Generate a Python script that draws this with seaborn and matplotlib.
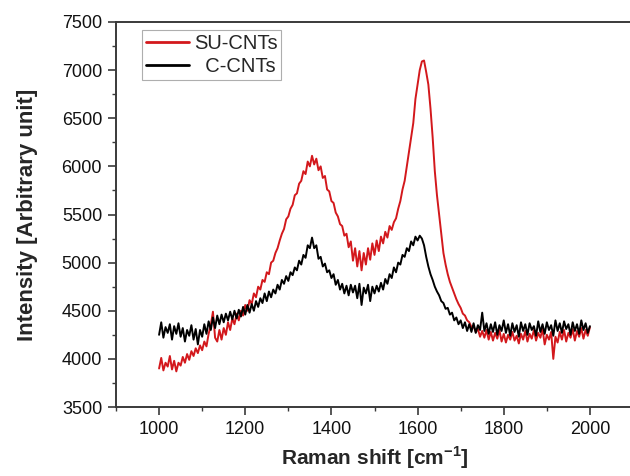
import numpy as np
import pandas as pd
import matplotlib
matplotlib.use("Agg")
import matplotlib.pyplot as plt
from matplotlib.ticker import MultipleLocator
from matplotlib.lines import Line2D
import seaborn as sns

# Raman shift grid (cm^-1), 5 cm^-1 steps from 1000 to 2000
raman_shift = list(range(1000, 2001, 5))

su_cnts = [
    3900, 4010, 3880, 3960, 3920, 4030, 3890, 3980, 3870, 3960,
    3930, 4020, 3960, 4050, 3990, 4080, 4030, 4110, 4060, 4140,
    4090, 4180, 4130, 4260, 4350, 4490, 4220, 4180, 4300, 4200,
    4320, 4250, 4380, 4300, 4420, 4360, 4470, 4400, 4500, 4450,
    4560, 4500, 4610, 4570, 4680, 4640, 4750, 4720, 4820, 4800,
    4900, 4880, 5000, 5020, 5100, 5150, 5230, 5300, 5350, 5450,
    5480, 5560, 5600, 5700, 5720, 5820, 5850, 5950, 5920, 6050,
    6000, 6110, 6020, 6080, 5960, 6000, 5880, 5900, 5760, 5740,
    5640, 5620, 5520, 5480, 5400, 5380, 5280, 5300, 5160, 5220,
    5020, 5150, 4960, 5120, 4920, 5100, 4980, 5150, 5030, 5200,
    5080, 5230, 5120, 5270, 5200, 5320, 5260, 5380, 5340, 5420,
    5460, 5560, 5640, 5760, 5850, 6000, 6150, 6300, 6450, 6700,
    6850, 7000, 7090, 7100, 6980, 6850, 6600, 6300, 5950, 5700,
    5500, 5300, 5100, 4980, 4880, 4800, 4740, 4680, 4620, 4570,
    4530, 4470, 4450, 4400, 4380, 4330, 4340, 4280, 4310, 4230,
    4290, 4220, 4300, 4200, 4280, 4190, 4270, 4210, 4300, 4180,
    4260, 4170, 4250, 4200, 4280, 4190, 4240, 4160, 4260, 4200,
    4290, 4180, 4260, 4210, 4300, 4190, 4270, 4220, 4310, 4150,
    4250, 4200, 4280, 4000, 4230, 4170, 4280, 4200, 4300, 4180,
    4270, 4220, 4310, 4190, 4290, 4230, 4320, 4210, 4300, 4240,
    4330,
]

c_cnts = [
    4250, 4380, 4220, 4330, 4270, 4360, 4200, 4340, 4260, 4370,
    4230, 4320, 4180, 4300, 4240, 4350, 4200, 4310, 4150, 4300,
    4230, 4360, 4260, 4390, 4300, 4430, 4320, 4450, 4360, 4460,
    4380, 4470, 4400, 4490, 4410, 4500, 4420, 4510, 4440, 4540,
    4460, 4560, 4480, 4570, 4500, 4600, 4540, 4630, 4580, 4680,
    4600, 4700, 4640, 4720, 4680, 4770, 4720, 4820, 4780, 4860,
    4810, 4900, 4870, 4950, 4920, 5020, 4980, 5080, 5050, 5180,
    5150, 5260, 5150, 5180, 5040, 5060, 4960, 4990, 4900, 4920,
    4840, 4880, 4770, 4820, 4720, 4780, 4680, 4760, 4660, 4770,
    4690, 4760, 4630, 4780, 4560, 4740, 4680, 4770, 4600, 4750,
    4680, 4760, 4700, 4790, 4720, 4830, 4780, 4880, 4840, 4950,
    4900, 5000, 4980, 5080, 5060, 5150, 5120, 5220, 5180, 5270,
    5230, 5280, 5250, 5180, 5060, 4960, 4880, 4820, 4750, 4700,
    4660, 4600, 4580, 4520, 4530, 4460, 4480, 4400, 4430, 4360,
    4400, 4320, 4380, 4290, 4360, 4280, 4370, 4270, 4350, 4300,
    4480, 4290, 4370, 4260, 4360, 4280, 4380, 4250, 4350, 4290,
    4400, 4270, 4360, 4240, 4370, 4280, 4350, 4230, 4380, 4290,
    4360, 4250, 4370, 4300, 4340, 4240, 4390, 4280, 4360, 4260,
    4380, 4300, 4350, 4240, 4400, 4290, 4370, 4270, 4390, 4310,
    4360, 4250, 4380, 4290, 4360, 4260, 4400, 4300, 4370, 4270,
    4340,
]

series_names = ["SU-CNTs", "C-CNTs"]
legend_labels = ["SU-CNTs", "  C-CNTs"]
series_colors = ["#d3181c", "#000000"]

df = pd.DataFrame({
    "shift": raman_shift * 2,
    "intensity": su_cnts + c_cnts,
    "sample": [series_names[0]] * len(raman_shift) + [series_names[1]] * len(raman_shift),
})

sns.set_style("ticks")
plt.rcParams["font.family"] = ["Liberation Sans", "DejaVu Sans"]

fig = plt.figure(figsize=(6.3, 4.76), dpi=100)
ax = fig.add_axes([116 / 630, 1 - 407 / 476, (633 - 116) / 630, (407 - 22) / 476])

sns.lineplot(data=df, x="shift", y="intensity", hue="sample",
             palette=dict(zip(series_names, series_colors)),
             linewidth=1.4, ax=ax, legend=False, estimator=None)

ax.set_xlim(900, 2100)
ax.set_ylim(3500, 7500)
ax.xaxis.set_major_locator(MultipleLocator(200))
ax.xaxis.set_minor_locator(MultipleLocator(100))
ax.yaxis.set_major_locator(MultipleLocator(500))
ax.yaxis.set_minor_locator(MultipleLocator(250))

spine_color = "#3a3a3a"
for s in ["left", "bottom", "top"]:
    ax.spines[s].set_visible(True)
    ax.spines[s].set_color(spine_color)
    ax.spines[s].set_linewidth(1.4)
ax.spines["right"].set_visible(False)
ax.tick_params(axis="both", which="major", direction="out", length=6, width=1.2,
               color=spine_color, labelsize=13, labelcolor="#111111", pad=4)
ax.tick_params(axis="both", which="minor", direction="out", length=3, width=1.0,
               color=spine_color)
ax.tick_params(top=False, right=False, which="both")

ax.set_xlabel("Raman shift [cm$^{\\mathregular{-1}}$]", fontsize=15, fontweight="bold", labelpad=5)
ax.set_ylabel("Intensity [Arbitrary unit]", fontsize=16, fontweight="bold", labelpad=17)

handles = [Line2D([0], [0], color=c, lw=2) for c in series_colors]
leg = ax.legend(handles, legend_labels, loc="upper left", bbox_to_anchor=(0.051, 0.979),
                fontsize=14.5, frameon=True, fancybox=False, edgecolor="#9a9a9a",
                handlelength=2.1, handletextpad=0.25, borderpad=0.2, labelspacing=0.2,
                borderaxespad=0)
leg.get_frame().set_linewidth(0.8)

fig.savefig("out.png", dpi=100)
